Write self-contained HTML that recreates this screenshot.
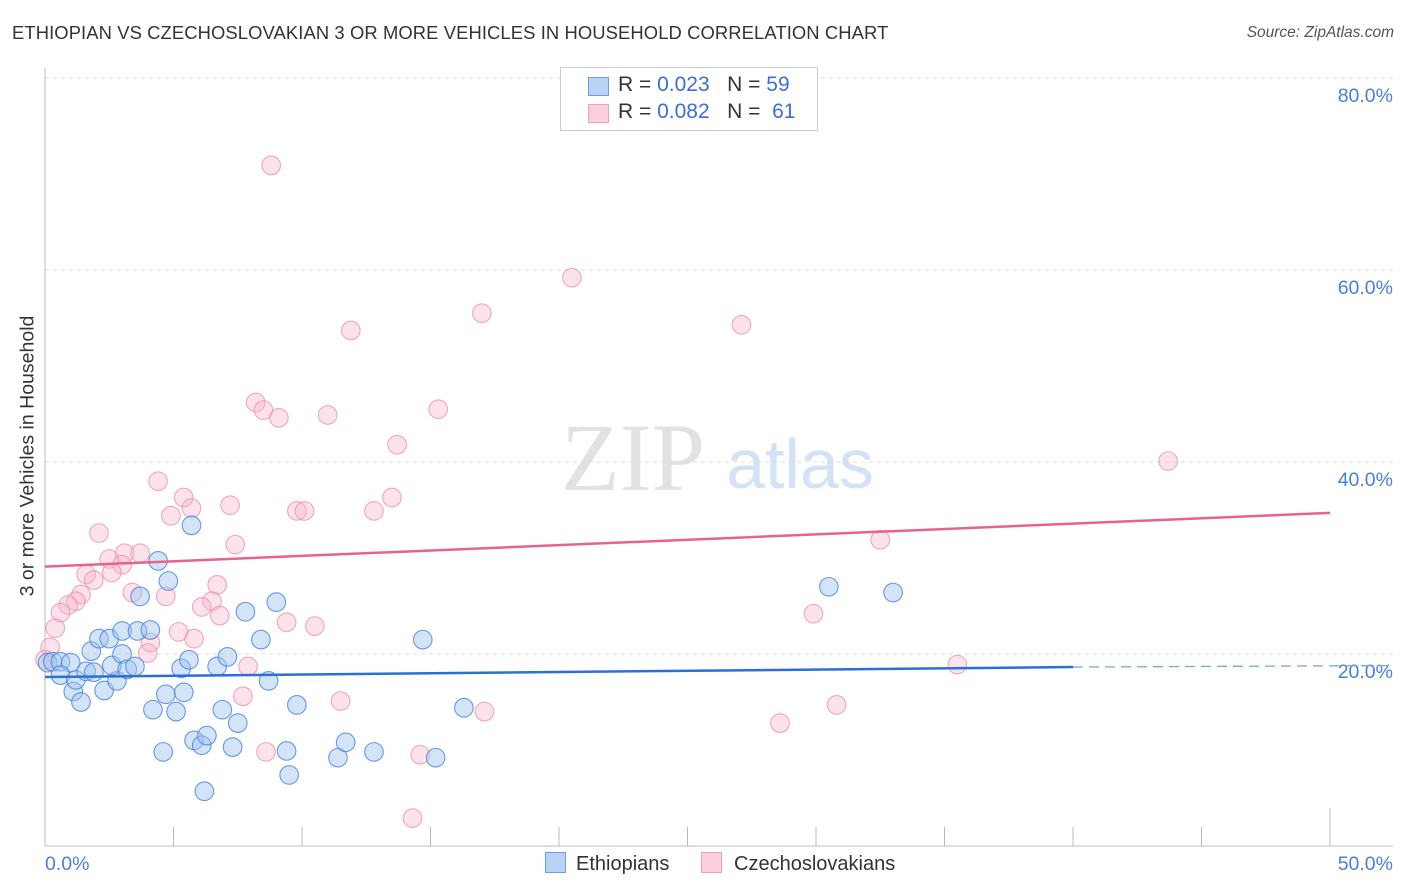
<!DOCTYPE html>
<html><head><meta charset="utf-8"><style>
body{margin:0;background:#fff;font-family:"Liberation Sans",sans-serif}
#wrap{position:relative;width:1406px;height:892px;overflow:hidden}
.t{position:absolute;white-space:nowrap}
</style></head><body>
<div id="wrap">
<div class="t" style="left:12px;top:22px;font-size:18.4px;color:#333;letter-spacing:0.1px">ETHIOPIAN VS CZECHOSLOVAKIAN 3 OR MORE VEHICLES IN HOUSEHOLD CORRELATION CHART</div>
<div class="t" style="right:12px;top:24px;font-size:15.5px;color:#555;font-style:italic">Source: ZipAtlas.com</div>
<div class="t" style="left:28px;top:456px;font-size:19.5px;color:#333;transform:translate(-50%,-50%) rotate(-90deg)">3 or more Vehicles in Household</div>
<svg id="plot" width="1406" height="892" style="position:absolute;left:0;top:0"></svg>
<div class="t" style="left:560px;top:67px;width:256px;height:62px;border:1px solid #ccc;background:#fff;font-size:21px;color:#333">
 <div style="position:absolute;left:27px;top:9px;width:19px;height:17px;background:#b8d3f5;border:1px solid #6a9ee6"></div>
 <div style="position:absolute;left:57px;top:5px">R = <span style="color:#3b6fd4">0.023</span>&nbsp;&nbsp;&nbsp;N = <span style="color:#3b6fd4">59</span></div>
 <div style="position:absolute;left:27px;top:36px;width:19px;height:17px;background:#fbd0dc;border:1px solid #f0a0b8"></div>
 <div style="position:absolute;left:57px;top:32px">R = <span style="color:#3b6fd4">0.082</span>&nbsp;&nbsp;&nbsp;N = &nbsp;<span style="color:#3b6fd4">61</span></div>
</div>
<div class="t" style="left:545px;top:852px;font-size:20px;color:#333"><span style="display:inline-block;width:19px;height:19px;background:#b8d3f5;border:1px solid #6a9ee6;vertical-align:-3px;margin-right:10px"></span>Ethiopians</div>
<div class="t" style="left:701px;top:852px;font-size:20px;color:#333"><span style="display:inline-block;width:19px;height:19px;background:#fbd0dc;border:1px solid #f0a0b8;vertical-align:-3px;margin-right:12px"></span>Czechoslovakians</div>
</div>
<script>
const blueX=[0.1,0.3,0.6,1.0,0.6,1.1,1.2,1.4,1.6,1.8,1.9,2.1,2.3,2.5,2.8,2.6,3.0,3.0,3.2,3.5,3.6,3.7,4.1,4.2,4.4,4.6,4.7,4.8,5.1,5.3,5.4,5.6,5.7,5.8,6.1,6.2,6.3,6.7,6.9,7.1,7.3,7.5,7.8,8.4,8.7,9.0,9.4,9.5,9.8,11.4,11.7,12.8,14.7,15.2,16.3,30.5,33.0];
const blueY=[19.1,19.2,19.2,19.1,17.8,16.1,17.3,15.0,18.2,20.3,18.1,21.6,16.2,21.6,17.2,18.8,22.4,20.0,18.4,18.7,22.4,26.0,22.5,14.2,29.7,9.8,15.8,27.6,14.0,18.5,16.0,19.4,33.4,11.0,10.5,5.7,11.5,18.7,14.2,19.7,10.3,12.8,24.4,21.5,17.2,25.4,9.9,7.4,14.7,9.2,10.8,9.8,21.5,9.2,14.4,27.0,26.4];
const pinkX=[8.8,20.5,17.0,11.9,27.1,8.2,8.5,9.1,11.0,15.3,13.7,43.7,4.4,5.4,5.7,4.9,7.2,9.8,10.1,12.8,13.5,2.1,7.4,32.5,2.5,3.1,3.7,3.0,2.6,1.6,1.9,3.4,4.7,6.7,1.4,1.2,0.9,0.6,0.4,0.2,6.5,6.1,6.8,5.2,5.8,4.1,4.0,9.4,10.5,7.9,7.7,11.5,29.9,35.5,30.8,17.1,28.6,8.6,14.6,14.3,0.0];
const pinkY=[70.9,59.2,55.5,53.7,54.3,46.2,45.4,44.6,44.9,45.5,41.8,40.1,38.0,36.3,35.2,34.4,35.5,34.9,34.9,34.9,36.3,32.6,31.4,31.9,29.9,30.5,30.5,29.3,28.5,28.3,27.7,26.4,26.0,27.2,26.2,25.5,25.1,24.3,22.7,20.7,25.5,24.9,24.0,22.3,21.6,21.2,20.1,23.3,22.9,18.7,15.6,15.1,24.2,18.9,14.7,14.0,12.8,9.8,9.5,2.9,19.4];
const yTicks=[20,40,60,80];
const yTickLabels=["20.0%","40.0%","60.0%","80.0%"];
const xTickVals=[0,5,10,15,20,25,30,35,40,45,50];
const blueTrend=[17.6,18.9];
const blueSolidEnd=40;
const pinkTrend=[29.1,34.7];

const NS="http://www.w3.org/2000/svg";
const svg=document.getElementById('plot');
const X0=45,X1=1330,Y0=846,YS=9.6;
function sx(v){return X0+(v/50)*(X1-X0);}
function sy(v){return Y0-v*YS;}
function mk(tag,attrs){const e=document.createElementNS(NS,tag);for(const k in attrs)e.setAttribute(k,attrs[k]);svg.appendChild(e);return e;}

let w=mk('text',{x:633,y:490,'font-size':96,'font-family':'Liberation Serif,serif',fill:'#e2e2e2','text-anchor':'middle'});w.textContent='ZIP';


let w2=mk('text',{x:800,y:488,'font-size':70,'font-family':'Liberation Sans,sans-serif',fill:'#d3e2f6','text-anchor':'middle'});w2.textContent='atlas';



yTicks.forEach((t,i)=>{
 const g=mk('line',{x1:X0,x2:1393,y1:sy(t),y2:sy(t),stroke:'#ddd','stroke-dasharray':'4,4'});
 
 
 const l=mk('text',{x:1393,y:sy(t)+24,'text-anchor':'end','font-size':19.5,fill:'#4a7fd6','font-family':'Liberation Sans,sans-serif'});
 l.textContent=yTickLabels[i];
 
 
});
let ax=mk('line',{x1:X0,x2:X0,y1:68,y2:846,stroke:'#bbb'});


let bx=mk('line',{x1:X0,x2:1393,y1:846,y2:846,stroke:'#bbb'});


xTickVals.forEach((t,i)=>{
 const tk=mk('line',{x1:sx(t),x2:sx(t),y1:846,y2:(i==xTickVals.length-1?808:827),stroke:'#bbb'});
 
 
});
let xl=mk('text',{x:45,y:870,'font-size':19.5,fill:'#4a7fd6','font-family':'Liberation Sans,sans-serif'});xl.textContent='0.0%';


let xr=mk('text',{x:1393,y:870,'text-anchor':'end','font-size':19.5,fill:'#4a7fd6','font-family':'Liberation Sans,sans-serif'});xr.textContent='50.0%';



function pts(xs,ys,fill,stroke,name){
 xs.forEach((x,i)=>{
  const c=mk('circle',{cx:sx(x),cy:sy(ys[i]),r:9.3,fill:fill,stroke:stroke,'stroke-width':1.1});
  
  
 });
}
pts(pinkX,pinkY,'rgba(248,182,202,0.4)','rgba(236,140,170,0.75)','czechoslovakian-point');
pts(blueX,blueY,'rgba(160,196,240,0.45)','rgba(70,130,220,0.8)','ethiopian-point');

function ty(tr,x){return tr[0]+(tr[1]-tr[0])*x/50;}
let pl=mk('line',{x1:sx(0),y1:sy(ty(pinkTrend,0)),x2:sx(50),y2:sy(ty(pinkTrend,50)),stroke:'#e8628e','stroke-width':2.5});


let bl=mk('line',{x1:sx(0),y1:sy(ty(blueTrend,0)),x2:sx(blueSolidEnd),y2:sy(ty(blueTrend,blueSolidEnd)),stroke:'#2c6fd6','stroke-width':2.5});


let bd=mk('line',{x1:sx(blueSolidEnd),y1:sy(ty(blueTrend,blueSolidEnd)),x2:1393,y2:sy(ty(blueTrend,50))+1,stroke:'#7aa3e0','stroke-width':1.3,'stroke-dasharray':'10,6'});


</script>
</body></html>
